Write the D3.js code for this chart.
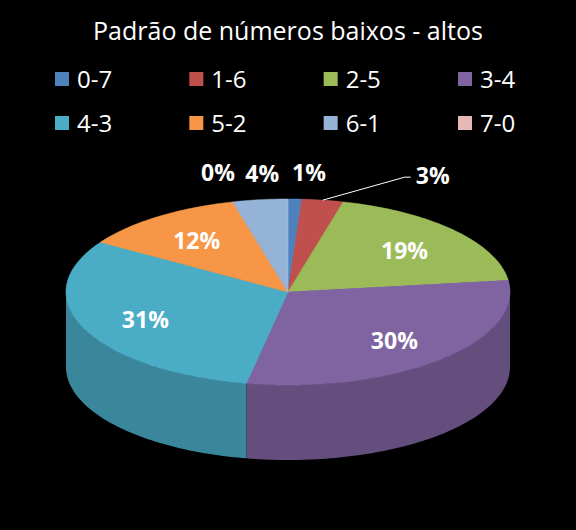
<!DOCTYPE html>
<html><head><meta charset="utf-8">
<script src="https://cdn.jsdelivr.net/npm/d3@7"></script>
<style>body{margin:0;background:#000}</style>
</head><body><div id="chart"></div>
<script>
var categories = ["0-7", "1-6", "2-5", "3-4", "4-3", "5-2", "6-1", "7-0"];
var values = [1, 3, 19, 30, 31, 12, 4, 0];
var colors = ["#4F81BD", "#C0504D", "#9BBB59", "#8064A2", "#4BACC6", "#F79646", "#95B3D7", "#E6B9B8"];

var W = 576, H = 530, cx = 288, cy = 292, rx = 222, ry = 93, depth = 75;

var svg = d3.select("#chart").append("svg").attr("width", W).attr("height", H)
  .style("background", "#000").style("font-family", "'Open Sans', 'Noto Sans', sans-serif");

svg.append("text").attr("x", W / 2).attr("y", 40).attr("text-anchor", "middle")
  .attr("fill", "#fff").style("font-size", "25px").text("Padrão de números baixos - altos");

// legend
var legX = d3.scalePoint().domain([0, 1, 2, 3]).range([55, 458]);
var leg = svg.selectAll(".leg").data(categories).enter().append("g")
  .attr("transform", function (d, i) { return "translate(" + legX(i % 4) + "," + (80 + Math.floor(i / 4) * 44) + ")"; });
leg.append("rect").attr("x", 0).attr("y", -8).attr("width", 14).attr("height", 14)
  .attr("fill", function (d, i) { return colors[i]; });
leg.append("text").attr("x", 22).attr("y", 8).attr("fill", "#fff").style("font-size", "24px").text(function (d) { return d; });

var pie = d3.pie().sort(null).value(function (d) { return d; });
var arcs = pie(values);

function pt(a, dy) { return [cx + rx * Math.sin(a), cy - ry * Math.cos(a) + (dy || 0)]; }
function edge(a0, a1, dy) {
  var n = Math.max(2, Math.ceil((a1 - a0) / 0.02)), p = [];
  for (var k = 0; k <= n; k++) p.push(pt(a0 + (a1 - a0) * k / n, dy));
  return p;
}
var line = d3.line();

// side walls (front half: angles between PI/2 and 3PI/2)
arcs.forEach(function (d, i) {
  var a0 = Math.max(d.startAngle, Math.PI / 2), a1 = Math.min(d.endAngle, 3 * Math.PI / 2);
  if (a1 <= a0) return;
  var top = edge(a0, a1, 0), bot = edge(a0, a1, depth).reverse();
  svg.append("path").attr("d", line(top.concat(bot)) + "Z")
    .attr("fill", d3.color(colors[i]).darker(0.7));
});

// top faces
arcs.forEach(function (d, i) {
  if (d.endAngle - d.startAngle <= 0) return;
  var p = [[cx, cy]].concat(edge(d.startAngle, d.endAngle, 0));
  svg.append("path").attr("d", line(p) + "Z").attr("fill", colors[i])
    .attr("stroke", d3.color(colors[i]).brighter(0.3)).attr("stroke-width", 0.5);
});

// labels
var outerOffset = { 0: [14, 0], 1: [110, 2], 6: [2, 0], 7: [-70, 0] };
arcs.forEach(function (d, i) {
  var m = (d.startAngle + d.endAngle) / 2, pos;
  if (outerOffset[i]) {
    pos = pt(m, 0); pos = [pos[0] + outerOffset[i][0], pos[1] - 18 + outerOffset[i][1]];
  } else {
    pos = [cx + rx * 0.7 * Math.sin(m), cy - ry * 0.7 * Math.cos(m) + 10];
  }
  svg.append("text").attr("x", pos[0]).attr("y", pos[1]).attr("text-anchor", "middle")
    .attr("fill", "#fff").style("font-size", "23px").style("font-weight", "bold")
    .text(values[i] + "%");
  if (i === 1) {
    var s = pt(m, 0);
    svg.append("path").attr("d", line([s, [pos[0] - 28, pos[1] - 7], [pos[0] - 22, pos[1] - 7]]))
      .attr("stroke", "#fff").attr("fill", "none");
  }
});
</script></body></html>
